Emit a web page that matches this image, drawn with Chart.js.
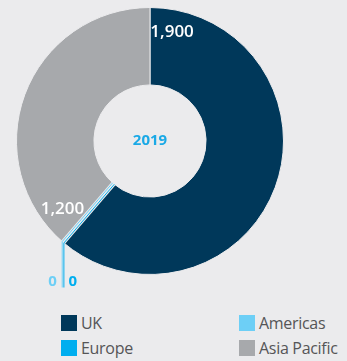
<!DOCTYPE html>
<html>
<head>
<meta charset="utf-8">
<script src="https://cdn.jsdelivr.net/npm/chart.js@4.4.1/dist/chart.umd.min.js"></script>
<style>
  html, body { margin: 0; padding: 0; background: #ebebed; }
  #wrap { position: relative; width: 347px; height: 361px; overflow: hidden; font-family: "Open Sans", sans-serif; }
  #donut { position: absolute; left: 16px; top: 7px; }
  .key { position: absolute; display: flex; align-items: center; font-size: 16px; color: #555557; letter-spacing: -0.3px; }
  .key i { display: inline-block; width: 16px; height: 16px; margin-right: 4px; }
</style>
</head>
<body>
<div id="wrap">
  <canvas id="donut" width="268" height="300"></canvas>
  <div id="legend"></div>
</div>
<script>
  // regions and headcount for the year
  const regions = ['UK', 'Europe', 'Americas', 'Asia Pacific'];
  const counts = [1900, 0, 0, 1200];
  const labels = ['1,900', '0', '0', '1,200'];
  const colours = ['#00385a', '#00aeef', '#6dcff6', '#a7a9ac'];
  const year = '2019';

  // legend, two columns
  const legendPos = [[61, 314], [61, 339], [239, 314], [239, 339]];
  const legend = document.getElementById('legend');
  regions.forEach(function (r, i) {
    const d = document.createElement('div');
    d.className = 'key';
    d.style.left = legendPos[i][0] + 'px';
    d.style.top = (legendPos[i][1] - 2) + 'px';
    d.innerHTML = '<i style="background:' + colours[i] + '"></i>' + r;
    legend.appendChild(d);
  });

  const labelPlugin = {
    id: 'labelPlugin',
    afterDatasetsDraw(chart) {
      const ctx = chart.ctx;
      const arcs = chart.getDatasetMeta(0).data;
      const cx = arcs[0].x, cy = arcs[0].y;
      ctx.save();

      // zero slices: thin strokes with leader lines dropping down
      const zeros = arcs.filter(function (arc, i) { return counts[i] === 0; });
      if (zeros.length) {
        const a0 = zeros[0].startAngle;
        const r0 = zeros[0].innerRadius, r1 = zeros[0].outerRadius;
        // clear a gap between the neighbouring slices
        ctx.strokeStyle = '#ebebed';
        ctx.lineWidth = 5;
        ctx.beginPath();
        ctx.moveTo(cx + Math.cos(a0) * (r0 - 2), cy + Math.sin(a0) * (r0 - 2));
        ctx.lineTo(cx + Math.cos(a0) * (r1 + 2), cy + Math.sin(a0) * (r1 + 2));
        ctx.stroke();
      }
      let zi = 0;
      arcs.forEach(function (arc, i) {
        if (counts[i] !== 0) return;
        const a = arc.startAngle;
        const off = zi === 0 ? -1.1 : 1.1;
        const nx = -Math.sin(a) * off, ny = Math.cos(a) * off;
        const ix = cx + Math.cos(a) * arc.innerRadius + nx, iy = cy + Math.sin(a) * arc.innerRadius + ny;
        const ox = cx + Math.cos(a) * arc.outerRadius + nx, oy = cy + Math.sin(a) * arc.outerRadius + ny;
        const endY = cy + arc.outerRadius + 13;
        const textY = cy + arc.outerRadius + 7;
        ctx.strokeStyle = colours[i];
        ctx.lineWidth = 1;
        ctx.beginPath();
        ctx.moveTo(ix, iy);
        ctx.lineTo(ox, oy);
        ctx.lineTo(ox, endY);
        ctx.stroke();
        ctx.fillStyle = colours[i];
        ctx.font = 'bold 15px "Open Sans"';
        ctx.textBaseline = 'middle';
        if (zi === 0) {
          ctx.textAlign = 'left';
          ctx.fillText(labels[i], ox + 4.5, textY);
        } else {
          ctx.textAlign = 'right';
          ctx.fillText(labels[i], ox - 5.5, textY);
        }
        zi++;
      });

      // value labels near the start of each big slice
      ctx.fillStyle = '#ffffff';
      ctx.font = '600 17px "Open Sans"';
      ctx.textAlign = 'center';
      ctx.textBaseline = 'middle';
      arcs.forEach(function (arc, i) {
        if (counts[i] === 0) return;
        const a = arc.startAngle + 11.5 * Math.PI / 180;
        const r = arc.outerRadius * 0.83;
        ctx.fillText(labels[i], cx + Math.cos(a) * r, cy + Math.sin(a) * r);
      });

      // year in the middle
      ctx.fillStyle = '#1aa9e6';
      ctx.font = 'bold 15px "Open Sans"';
      ctx.fillText(year, cx, cy);
      ctx.restore();
    }
  };

  new Chart(document.getElementById('donut'), {
    type: 'doughnut',
    data: {
      labels: regions,
      datasets: [{
        data: counts,
        backgroundColor: colours,
        borderColor: '#ebebed',
        borderWidth: 1
      }]
    },
    options: {
      responsive: false,
      animation: false,
      cutout: '42%',
      layout: { padding: { bottom: 32 } },
      plugins: {
        legend: { display: false },
        tooltip: { enabled: false }
      }
    },
    plugins: [labelPlugin]
  });
</script>
</body>
</html>
